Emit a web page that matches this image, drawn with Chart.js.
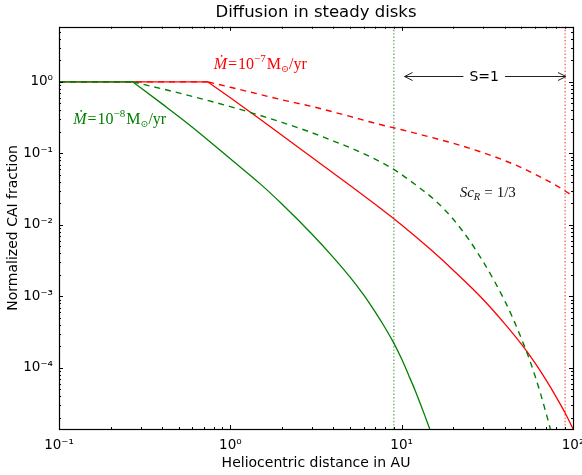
<!DOCTYPE html>
<html><head><meta charset="utf-8">
<script src="https://cdn.jsdelivr.net/npm/chart.js@4.4.1/dist/chart.umd.min.js"></script>
<style>html,body{margin:0;padding:0;background:#fff;}#wrap{width:582px;height:475px;position:relative;}</style>
</head><body><div id="wrap"><canvas id="c" width="582" height="475"></canvas></div>
<script>
// ---- text ----
const titleText = 'Diffusion in steady disks';
const xAxisTitle = 'Heliocentric distance in AU';
const yAxisTitle = 'Normalized CAI fraction';
// ---- axes ----
const xRange = [0.1, 100];
const yRange = [1.4e-5, 5.9];
const xTickValues = [0.1, 1, 10, 100];
const xTickLabels = ['10\u207B\u00B9', '10\u2070', '10\u00B9', '10\u00B2'];
const yTickValues = [1e-4, 1e-3, 1e-2, 1e-1, 1];
const yTickLabels = ['10\u207B\u2074', '10\u207B\u00B3', '10\u207B\u00B2', '10\u207B\u00B9', '10\u2070'];
// ---- series: Mdot = 1e-8 Msun/yr (green) ----
const greenSolidX = [0.1, 0.27, 0.4, 0.6, 1, 1.5, 2, 3, 4, 5, 6, 7, 8, 9, 10, 11, 12, 13, 14, 15, 15.5];
const greenSolidY = [1, 1, 0.493, 0.233, 0.0841, 0.0372, 0.0196, 0.0074, 0.00349, 0.00186, 0.00105,
  6.08e-4, 3.65e-4, 2.22e-4, 1.33e-4, 7.87e-5, 4.81e-5, 2.94e-5, 1.83e-5, 1.17e-5, 9.5e-6];
const greenDashedX = [0.1, 0.27, 0.4, 0.6, 1, 1.5, 2, 3, 4, 5, 7, 9, 12, 16, 20, 25, 30, 35, 40, 45, 50, 55, 60, 65, 70, 75, 77];
const greenDashedY = [1, 1, 0.80, 0.627, 0.452, 0.339, 0.272, 0.1945, 0.149, 0.1205, 0.083, 0.0598, 0.0367,
  0.0211, 0.012, 0.00596, 0.00302, 1.59e-3, 8.65e-4, 4.71e-4, 2.57e-4, 1.43e-4, 7.78e-5, 4.17e-5, 2.23e-5, 1.2e-5, 9.5e-6];
// ---- series: Mdot = 1e-7 Msun/yr (red) ----
const redSolidX = [0.1, 0.74, 1, 1.5, 2, 3, 5, 7, 10, 15, 20, 30, 40, 50, 60, 70, 80, 90, 100];
const redSolidY = [1, 1, 0.601, 0.298, 0.18, 0.0877, 0.0356, 0.0195, 0.0100, 0.00438, 0.00233, 9.0e-4,
  4.14e-4, 2.15e-4, 1.175e-4, 6.64e-5, 3.88e-5, 2.34e-5, 1.41e-5];
const redDashedX = [0.1, 0.743, 1, 1.5, 2, 3, 5, 7, 10, 15, 20, 30, 40, 50, 60, 70, 80, 90, 100];
const redDashedY = [1, 1, 0.842, 0.665, 0.562, 0.453, 0.329, 0.264, 0.2143, 0.1667, 0.1387, 0.1021,
  0.0793, 0.0632, 0.0513, 0.0424, 0.0354, 0.0298, 0.0254];
// ---- S=1 limits (green: 1e-8, red: 1e-7) ----
const sLimitX = [9, 90];
// ---- annotations ----
const arrowSpan = [10.4, 91];
const arrowY = 1.2;
const arrowLabel = 'S=1';
const arrowLabelX = 30.3;
const redLabelPos = [0.80, 1.50];
const greenLabelPos = [0.121, 0.257];
const scLabelPos = [21.8, 0.0244];

const GREEN = '#008000', RED = '#ff0000';
const pts = (xs, ys) => xs.map((x, i) => ({x, y: ys[i]}));
const tickLabel = (v, vals, labs) => {
  for (let i = 0; i < vals.length; i++) if (Math.abs(Math.log10(v) - Math.log10(vals[i])) < 1e-6) return labs[i];
  return '';
};

function drawRich(ctx, x, y, runs, color) {
  ctx.save();
  ctx.fillStyle = color;
  ctx.textBaseline = 'alphabetic';
  ctx.textAlign = 'left';
  let cx = x;
  for (const r of runs) {
    ctx.font = (r.it ? 'italic ' : '') + r.size + 'px "Liberation Serif", "DejaVu Serif", serif';
    cx += (r.pre || 0);
    ctx.fillText(r.t, cx, y + (r.dy || 0));
    cx += ctx.measureText(r.t).width + (r.post || 0);
  }
  ctx.restore();
}

const decor = {
  id: 'decor',
  afterDatasetsDraw(chart) {
    const ctx = chart.ctx, a = chart.chartArea;
    const xs = chart.scales.x, ys = chart.scales.y;
    ctx.save();
    ctx.strokeStyle = '#000';
    ctx.lineWidth = 1;
    ctx.beginPath();
    for (let e = -1; e <= 2; e++) for (let k = 1; k <= 9; k++) {
      const v = k * Math.pow(10, e);
      if (v < xRange[0] - 1e-12 || v > xRange[1] + 1e-9) continue;
      const p = Math.round(xs.getPixelForValue(v)) + 0.5;
      const L = k === 1 ? 4 : 2;
      ctx.moveTo(p, a.bottom); ctx.lineTo(p, a.bottom - L);
      ctx.moveTo(p, a.top); ctx.lineTo(p, a.top + L);
    }
    for (let e = -5; e <= 0; e++) for (let k = 1; k <= 9; k++) {
      const v = k * Math.pow(10, e);
      if (v < yRange[0] || v > yRange[1]) continue;
      const p = Math.round(ys.getPixelForValue(v)) + 0.5;
      const L = k === 1 ? 4 : 2;
      ctx.moveTo(a.left, p); ctx.lineTo(a.left + L, p);
      ctx.moveTo(a.right, p); ctx.lineTo(a.right - L, p);
    }
    ctx.stroke();
    ctx.lineWidth = 1.2;
    ctx.strokeRect(Math.round(a.left) + 0.5, Math.round(a.top) + 0.5, Math.round(a.right - a.left), Math.round(a.bottom - a.top));

    // arrow S=1
    const ax0 = xs.getPixelForValue(arrowSpan[0]), ax1 = xs.getPixelForValue(arrowSpan[1]);
    const ay = Math.round(ys.getPixelForValue(arrowY)) + 0.5;
    ctx.strokeStyle = '#222';
    ctx.lineWidth = 1;
    ctx.beginPath();
    ctx.moveTo(ax0, ay); ctx.lineTo(ax1, ay);
    ctx.moveTo(ax0 + 8, ay - 4); ctx.lineTo(ax0, ay); ctx.lineTo(ax0 + 8, ay + 4);
    ctx.moveTo(ax1 - 8, ay - 4); ctx.lineTo(ax1, ay); ctx.lineTo(ax1 - 8, ay + 4);
    ctx.stroke();
    ctx.font = '14px "DejaVu Sans"';
    const tx = xs.getPixelForValue(arrowLabelX);
    const tw = ctx.measureText(arrowLabel).width;
    ctx.fillStyle = '#fff';
    ctx.fillRect(tx - tw / 2 - 6, ay - 9, tw + 12, 18);
    ctx.fillStyle = '#000';
    ctx.textAlign = 'center';
    ctx.textBaseline = 'middle';
    ctx.fillText(arrowLabel, tx, ay + 1);
    ctx.restore();

    // math labels
    const mk = (exp) => [
      {t: '\u1E40', it: true, size: 16},
      {t: '=', size: 16, pre: 1, post: 1},
      {t: '10', size: 16},
      {t: exp, size: 11, dy: -7},
      {t: 'M', size: 16, pre: 1},
      {t: '\u2299', size: 9.5, dy: 3},
      {t: '/yr', size: 16}
    ];
    drawRich(ctx, xs.getPixelForValue(redLabelPos[0]), ys.getPixelForValue(redLabelPos[1]), mk('\u22127'), RED);
    drawRich(ctx, xs.getPixelForValue(greenLabelPos[0]), ys.getPixelForValue(greenLabelPos[1]), mk('\u22128'), GREEN);
    drawRich(ctx, xs.getPixelForValue(scLabelPos[0]), ys.getPixelForValue(scLabelPos[1]), [
      {t: 'Sc', it: true, size: 15},
      {t: 'R', it: true, size: 10.5, dy: 3},
      {t: '=', size: 15, pre: 4, post: 4},
      {t: '1/3', size: 15}
    ], '#111');
  }
};

// each curve: a straight flat part up to the kink, then a smooth falling part
const curveDs = (label, xs, ys, color, dash, width, order) => [
  {label: label + ' (flat)', data: pts(xs.slice(0, 2), ys.slice(0, 2)), borderColor: color, backgroundColor: color,
   borderWidth: width, borderDash: dash, showLine: true, pointRadius: 0, fill: false, tension: 0, clip: 0, order},
  {label, data: pts(xs.slice(1), ys.slice(1)), borderColor: color, backgroundColor: color,
   borderWidth: width, borderDash: dash, showLine: true, pointRadius: 0, fill: false,
   cubicInterpolationMode: 'monotone', clip: 0, order}
];
const vline = (label, x, color, order) => ({
  label, data: pts([x, x], yRange), borderColor: color, backgroundColor: color,
  borderWidth: 1.4, borderDash: [1.4, 2], showLine: true, pointRadius: 0, fill: false, clip: 0, order
});

new Chart(document.getElementById('c'), {
  type: 'scatter',
  data: {
    datasets: [
      ...curveDs('Mdot=1e-8', greenSolidX, greenSolidY, GREEN, [], 1.3, 0),
      ...curveDs('Mdot=1e-8, Sc_R=1/3', greenDashedX, greenDashedY, GREEN, [6, 5], 1.4, 1),
      ...curveDs('Mdot=1e-7', redSolidX, redSolidY, RED, [], 1.3, 2),
      ...curveDs('Mdot=1e-7, Sc_R=1/3', redDashedX, redDashedY, RED, [6, 5], 1.4, 3),
      vline('S=1 limit (1e-8)', sLimitX[0], 'rgba(0,128,0,0.6)', 4),
      vline('S=1 limit (1e-7)', sLimitX[1], 'rgba(255,0,0,0.6)', 5)
    ]
  },
  options: {
    responsive: false,
    animation: false,
    devicePixelRatio: 1,
    layout: {padding: {left: 0, right: 9, top: 0, bottom: 0}},
    plugins: {
      legend: {display: false},
      tooltip: {enabled: false},
      title: {display: true, text: titleText, fullSize: false, color: '#000',
        font: {family: 'DejaVu Sans', size: 16.5, weight: 'normal'}, padding: {top: 3, bottom: 4}}
    },
    scales: {
      x: {
        type: 'logarithmic', min: xRange[0], max: xRange[1], position: 'bottom',
        grid: {display: false, drawTicks: false}, border: {display: false},
        ticks: {autoSkip: false, maxRotation: 0, minRotation: 0, padding: 8, color: '#000',
          font: {family: 'DejaVu Sans', size: 13.5},
          callback: (v) => tickLabel(v, xTickValues, xTickLabels)},
        title: {display: true, text: xAxisTitle, color: '#000',
          font: {family: 'DejaVu Sans', size: 14}, padding: {top: 0, bottom: 3}},
        afterFit: (s) => { s.height = 46; s.paddingLeft = 0; s.paddingRight = 0; }
      },
      y: {
        type: 'logarithmic', min: yRange[0], max: yRange[1], position: 'left',
        grid: {display: false, drawTicks: false}, border: {display: false},
        ticks: {autoSkip: false, padding: 6, color: '#000',
          font: {family: 'DejaVu Sans', size: 13.5},
          callback: (v) => tickLabel(v, yTickValues, yTickLabels)},
        title: {display: true, text: yAxisTitle, color: '#000',
          font: {family: 'DejaVu Sans', size: 14}, padding: {top: 5, bottom: 0}},
        afterFit: (s) => { s.width = 59; s.paddingTop = 0; s.paddingBottom = 0; }
      }
    }
  },
  plugins: [decor]
});
</script></body></html>
